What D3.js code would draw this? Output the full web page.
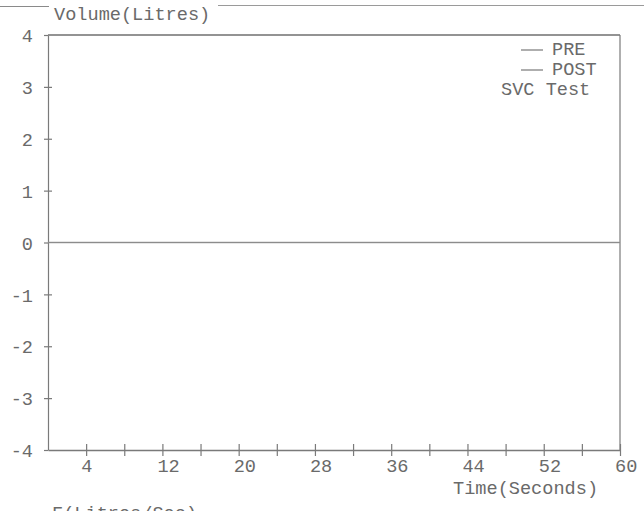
<!DOCTYPE html>
<html>
<head>
<meta charset="utf-8">
<script src="https://cdn.jsdelivr.net/npm/d3@7"></script>
<style>
  html, body { margin: 0; padding: 0; background: #fff; }
  svg { display: block; }
  text { font-family: "Liberation Mono", "DejaVu Sans Mono", monospace; fill: #6a6a6a; }
</style>
</head>
<body>
<svg id="chart" width="644" height="511"></svg>
<script>
// ---- data ----
const timeSeconds = [0, 60];
const preVolume = [0, 0];
const postVolume = [0, 0];
const xTickValues = [4, 8, 12, 16, 20, 24, 28, 32, 36, 40, 44, 48, 52, 56, 60];
const xTickLabels = [4, 12, 20, 28, 36, 44, 52, 60];
const yTickValues = [-4, -3, -2, -1, 0, 1, 2, 3, 4];
const legendLabels = ["PRE", "POST"];
const titleText = "Volume(Litres)";
const xTitleText = "Time(Seconds)";
const subTitleText = "SVC Test";
const flowText = "F(Litres/Sec)";

// ---- layout ----
const svg = d3.select("#chart");
const fs = 18.6;
const axisColor = "#7a7a7a";
const x = d3.scaleLinear().domain([0, 60]).range([48, 620]);
const y = d3.scaleLinear().domain([-4, 4]).range([450, 35]);

// outer frame top line broken by title
svg.append("line").attr("x1", 0).attr("x2", 49).attr("y1", 6.5).attr("y2", 6.5)
  .attr("stroke", "#8a8a8a").attr("stroke-width", 1.2);
svg.append("line").attr("x1", 218).attr("x2", 644).attr("y1", 5.5).attr("y2", 5.5)
  .attr("stroke", "#9a9a9a").attr("stroke-width", 1.2);
svg.append("text").attr("x", 54).attr("y", 20).attr("font-size", fs).text(titleText);

// plot frame (top and right)
svg.append("line").attr("x1", x(0)).attr("x2", x(60)).attr("y1", y(4)).attr("y2", y(4))
  .attr("stroke", "#6f6f6f").attr("stroke-width", 1.3);
svg.append("line").attr("x1", x(60)).attr("x2", x(60)).attr("y1", y(4)).attr("y2", y(-4))
  .attr("stroke", axisColor).attr("stroke-width", 1.2);

// x axis
const labelSet = new Set(xTickLabels);
const xAxis = svg.append("g").attr("transform", `translate(0,${y(-4)})`)
  .call(d3.axisBottom(x).tickValues(xTickValues).tickSize(6).tickSizeOuter(0)
    .tickFormat(d => labelSet.has(d) ? d : ""));
xAxis.select(".domain").attr("stroke", axisColor).attr("stroke-width", 1.3);
xAxis.selectAll(".tick line").attr("y1", -6).attr("y2", 6).attr("stroke", axisColor).attr("stroke-width", 1.2);
xAxis.selectAll(".tick text").attr("font-size", fs).attr("font-family", "Liberation Mono")
  .attr("fill", "#6a6a6a").attr("text-anchor", "start").attr("dx", -5.5).attr("dy", 0).attr("y", 22);

// y axis
const yAxis = svg.append("g").attr("transform", `translate(${x(0)},0)`)
  .call(d3.axisLeft(y).tickValues(yTickValues).tickSize(4).tickSizeOuter(0).tickFormat(d => d));
yAxis.select(".domain").attr("stroke", axisColor).attr("stroke-width", 1.2);
yAxis.selectAll(".tick line").attr("x1", -4).attr("x2", 4).attr("stroke", axisColor).attr("stroke-width", 1.2)
  .filter(d => d === 4 || d === -4 || d === 0).attr("x2", 0);
yAxis.selectAll(".tick text").attr("font-size", fs).attr("font-family", "Liberation Mono")
  .attr("fill", "#6a6a6a").attr("x", -15).attr("dy", "0.36em");

// series lines
const line = d3.line().x((d, i) => x(timeSeconds[i])).y(d => y(d));
svg.append("path").datum(preVolume).attr("d", line).attr("fill", "none")
  .attr("stroke", "#9a9a9a").attr("stroke-width", 1.4);
svg.append("path").datum(postVolume).attr("d", line).attr("fill", "none")
  .attr("stroke", "#8c8c8c").attr("stroke-width", 1.2);

// legend
const legendY = [50, 70];
legendLabels.forEach((lab, i) => {
  svg.append("line").attr("x1", 521).attr("x2", 543).attr("y1", legendY[i]).attr("y2", legendY[i])
    .attr("stroke", "#777").attr("stroke-width", 1.2);
  svg.append("text").attr("x", 552).attr("y", legendY[i] + 5).attr("font-size", fs).text(lab);
});
svg.append("text").attr("x", 501).attr("y", 95).attr("font-size", fs).text(subTitleText);

// axis titles
svg.append("text").attr("x", 453).attr("y", 494).attr("font-size", fs).text(xTitleText);
svg.append("text").attr("x", 52).attr("y", 519).attr("font-size", fs).text(flowText);
</script>
</body>
</html>
